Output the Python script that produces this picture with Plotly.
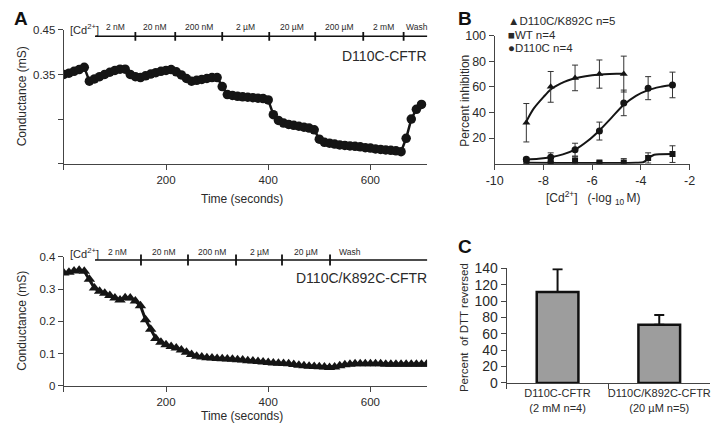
import plotly.graph_objects as go

W, H = 721, 433

# ---------------- data ----------------
# Panel A (top): D110C-CFTR conductance (mS), sampled every 10 s
t_top = list(range(0, 701, 10))
g_top = [0.350, 0.353, 0.357, 0.361, 0.366, 0.335, 0.340, 0.345, 0.350, 0.355,
         0.359, 0.362, 0.362, 0.350, 0.345, 0.343, 0.347, 0.351, 0.354, 0.357,
         0.359, 0.361, 0.356, 0.349, 0.341, 0.335, 0.337, 0.339, 0.341, 0.343,
         0.343, 0.323, 0.305, 0.303, 0.301, 0.300, 0.299, 0.298, 0.297, 0.296,
         0.293, 0.260, 0.247, 0.241, 0.238, 0.236, 0.234, 0.232, 0.230, 0.226,
         0.205, 0.198, 0.196, 0.194, 0.192, 0.191, 0.190, 0.189, 0.188, 0.186,
         0.185, 0.183, 0.182, 0.181, 0.180, 0.179, 0.177, 0.207, 0.250, 0.272,
         0.283]
top_switch_t = [140, 218, 310, 402, 492, 586, 665]
top_labels = ["2 nM", "20 nM", "200 nM", "2 µM", "20 µM", "200 µM", "2 mM", "Wash"]

# Panel A (bottom): D110C/K892C-CFTR conductance (mS), sampled every 10 s
t_bot = list(range(0, 711, 10))
g_bot = [0.350, 0.352, 0.356, 0.358, 0.355, 0.330, 0.303, 0.293, 0.287, 0.280,
         0.272, 0.266, 0.273, 0.272, 0.263, 0.248, 0.205, 0.175, 0.147, 0.135,
         0.127, 0.122, 0.117, 0.111, 0.104, 0.097, 0.092, 0.089, 0.087, 0.086,
         0.085, 0.084, 0.083, 0.082, 0.081, 0.080, 0.078, 0.077, 0.075, 0.074,
         0.072, 0.071, 0.070, 0.069, 0.068, 0.066, 0.064, 0.062, 0.061, 0.060,
         0.059, 0.058, 0.057, 0.058, 0.062, 0.065, 0.067, 0.068, 0.068, 0.068,
         0.068, 0.068, 0.068, 0.067, 0.067, 0.067, 0.067, 0.067, 0.067, 0.067,
         0.067, 0.067]
bot_switch_t = [151, 243, 337, 427, 521]
bot_labels = ["2 nM", "20 nM", "200 nM", "2 µM", "20 µM", "Wash"]
bar_start_t, bar_end_t = 61, 717

# Panel B: percent inhibition vs log10 [Cd2+]
logcd = [-8.7, -7.7, -6.7, -5.7, -4.7, -3.7, -2.7]
k892c_y = [32, 60, 67, 70, 70]
k892c_err = [15, 12, 10, 11, 14]
d110c_y = [3.5, 5, 11, 25.5, 47.5, 59, 61.5]
d110c_err = [1.5, 3.5, 5, 7, 10, 9, 10]
wt_y = [1, 1, 2.5, 1, 1, 4.5, 7.5]
wt_err = [1, 1, 3, 1, 3, 4, 6.5]
b_ticks = [-10, -8, -6, -4, -2]
b_ticktext = ["-10", "-8", "-6", "-4", "-2"]
# fitted curves
k892c_fit_x = [-8.7, -8.4, -8.0, -7.7, -7.3, -7.0, -6.5, -6.0, -5.5, -5.0, -4.7]
k892c_fit_y = [33, 43, 52, 58, 62.5, 65, 67.5, 69, 69.8, 70.2, 70.3]
d110c_fit_x = [-8.7, -8.2, -7.7, -7.2, -6.7, -6.2, -5.7, -5.2, -4.7, -4.2, -3.7, -3.2, -2.7]
d110c_fit_y = [3.2, 3.8, 5, 7.3, 11, 17.5, 26, 36, 46, 53, 57.5, 60, 61.5]
wt_fit_x = [-8.7, -4.2, -3.9, -3.75, -3.6, -3.45, -3.2, -2.7]
wt_fit_y = [0.8, 0.8, 1.2, 3, 5.5, 7, 7.4, 7.5]

# Panel C: percent of DTT reversed
c_cats = ["D110C-CFTR<br>(2 mM n=4)", "D110C/K892C-CFTR<br>(20 µM n=5)"]
c_vals = [111, 71]
c_errs = [28, 12]

# ---------------- helpers ----------------
def fx(x):
    return x / W

def fy(y):
    return 1 - y / H

FONT = "Liberation Sans, Arial, sans-serif"
TXT = "#2a2a2a"
AX = "#444444"
MK = "#151515"

fig = go.Figure()

# Panel A traces
fig.add_trace(go.Scatter(x=t_top, y=g_top, mode="lines+markers", xaxis="x", yaxis="y",
                         line=dict(color=MK, width=2.5),
                         marker=dict(symbol="circle", size=9.5, color=MK)))
fig.add_trace(go.Scatter(x=t_bot, y=g_bot, mode="lines+markers", xaxis="x2", yaxis="y2",
                         line=dict(color=MK, width=3),
                         marker=dict(symbol="triangle-up", size=10, color=MK)))

# Panel B traces
eb = dict(type="data", thickness=1, width=3, color="#333333")
for fxs, fys in [(k892c_fit_x, k892c_fit_y), (d110c_fit_x, d110c_fit_y), (wt_fit_x, wt_fit_y)]:
    fig.add_trace(go.Scatter(x=fxs, y=fys, mode="lines", xaxis="x3", yaxis="y3",
                             line=dict(color=MK, width=2, shape="spline", smoothing=0.8)))
fig.add_trace(go.Scatter(x=logcd[:5], y=k892c_y, mode="markers", xaxis="x3", yaxis="y3",
                         marker=dict(symbol="triangle-up", size=7, color=MK),
                         error_y=dict(array=k892c_err, **eb)))
fig.add_trace(go.Scatter(x=logcd, y=d110c_y, mode="markers", xaxis="x3", yaxis="y3",
                         marker=dict(symbol="circle", size=7, color=MK),
                         error_y=dict(array=d110c_err, **eb)))
fig.add_trace(go.Scatter(x=logcd, y=wt_y, mode="markers", xaxis="x3", yaxis="y3",
                         marker=dict(symbol="square", size=6, color=MK),
                         error_y=dict(array=wt_err, **eb)))

# Panel C
fig.add_trace(go.Bar(x=c_cats, y=c_vals, xaxis="x4", yaxis="y4", width=0.41,
                     marker=dict(color="#9d9d9d", line=dict(color="#111111", width=2.5)),
                     error_y=dict(type="data", array=c_errs, arrayminus=[0, 0], symmetric=False,
                                  thickness=2, width=5, color="#111111")))

axis_common = dict(showgrid=False, zeroline=False, showline=True, linecolor=AX, linewidth=1.2,
                   ticks="outside", tickcolor=AX, ticklen=5, tickwidth=1.2)

layout = dict(
    width=W, height=H, margin=dict(l=0, r=0, t=0, b=0),
    paper_bgcolor="white", plot_bgcolor="white", showlegend=False,
    font=dict(family=FONT, color=TXT),
    xaxis=dict(domain=[fx(56), fx(427)], range=[0, 711], anchor="y",
               tickvals=[0, 200, 400, 600], ticktext=["", "200", "400", "600"],
               tickfont=dict(size=11.5), **axis_common),
    yaxis=dict(domain=[fy(161.7), fy(22.7)], range=[0.15, 0.45], anchor="x",
               tickvals=[0.15, 0.25, 0.35, 0.45], ticktext=["", "", "0.35", "0.45"],
               tickfont=dict(size=11.5), **axis_common),
    xaxis2=dict(domain=[fx(56), fx(427)], range=[0, 711], anchor="y2",
                tickvals=[0, 200, 400, 600], ticktext=["", "200", "400", "600"],
                tickfont=dict(size=11.5), **axis_common),
    yaxis2=dict(domain=[fy(392.3), fy(258.3)], range=[0, 0.4], anchor="x2",
                tickvals=[0, 0.1, 0.2, 0.3, 0.4], ticktext=["0", "0.1", "0.2", "0.3", "0.4"],
                tickfont=dict(size=11.5), **axis_common),
    xaxis3=dict(domain=[fx(496), fx(695)], range=[-10, -2], anchor="y3",
                tickvals=b_ticks, ticktext=b_ticktext, tickfont=dict(size=12.5), **axis_common),
    yaxis3=dict(domain=[fy(161.7), fy(28.7)], range=[0, 100], anchor="x3",
                tickvals=[20, 40, 60, 80, 100], tickfont=dict(size=12.5), **axis_common),
    xaxis4=dict(domain=[fx(508.3), fx(716)], anchor="y4", type="category",
                tickson="boundaries", tickangle=0, tickfont=dict(size=11), **axis_common),
    yaxis4=dict(domain=[fy(389.3), fy(270.3)], range=[0, 140], anchor="x4",
                tickvals=[0, 20, 40, 60, 80, 100, 120, 140], tickfont=dict(size=14), **axis_common),
)
fig.update_layout(**layout)

shapes = []
annotations = []

def conc_bar(xref, switch_t, labels, y_line, y_tick0, y_tick1, y_label, wash_offset=None):
    shapes.append(dict(type="line", xref=xref, yref="paper", x0=bar_start_t, x1=bar_end_t,
                       y0=fy(y_line), y1=fy(y_line), line=dict(color="#111111", width=1.6)))
    for t in switch_t:
        shapes.append(dict(type="line", xref=xref, yref="paper", x0=t, x1=t,
                           y0=fy(y_tick0), y1=fy(y_tick1), line=dict(color="#111111", width=1.8)))
    edges = [bar_start_t] + switch_t + [bar_end_t]
    for i, lab in enumerate(labels):
        xm = (edges[i] + edges[i + 1]) / 2
        if wash_offset is not None and i == len(labels) - 1:
            xm = edges[i] + wash_offset
        annotations.append(dict(x=xm, y=fy(y_label), xref=xref, yref="paper", text=lab,
                                showarrow=False, font=dict(size=8.5, color=TXT),
                                xanchor="center", yanchor="middle"))

conc_bar("x", top_switch_t, top_labels, 29.3, 25, 34, 20)
conc_bar("x2", bot_switch_t, bot_labels, 261.7, 256, 267.5, 253, wash_offset=40)

def txt(x, y, s, size, anchor="center", angle=0, bold=False, color=TXT):
    annotations.append(dict(x=fx(x), y=fy(y), xref="paper", yref="paper",
                            text=("<b>%s</b>" % s) if bold else s, showarrow=False,
                            textangle=angle, xanchor=anchor, yanchor="middle",
                            font=dict(size=size, color=color, family=FONT)))

# [Cd2+] labels
txt(94, 21.5, "[Cd<sup>2+</sup>]", 11, anchor="right")
txt(94, 254.5, "[Cd<sup>2+</sup>]", 11, anchor="right")
# Trace labels
txt(429, 50, "D110C-CFTR", 14, anchor="right")
txt(429, 280, "D110C/K892C-CFTR", 14, anchor="right")
# Axis titles, panel A
txt(13, 92, "Conductance (mS)", 12, angle=-90)
txt(13, 325, "Conductance (mS)", 12, angle=-90)
txt(238, 198, "Time (seconds)", 12)
txt(238, 424, "Time (seconds)", 12)
# Panel letters
txt(3, 11, "A", 19, anchor="left", bold=True, color="#111111")
txt(456, 11, "B", 19, anchor="left", bold=True, color="#111111")
txt(456, 248, "C", 19, anchor="left", bold=True, color="#111111")
# Panel B titles & legend
txt(466, 96, "Percent inhibition", 12, angle=-90)
txt(597, 197, "[Cd<sup>2+</sup>]   (-log <sub>10 </sub>M)", 12)
txt(508, 13, "▲D110C/K892C n=5", 11.5, anchor="left")
txt(508, 28, "■WT n=4", 11.5, anchor="left")
txt(508, 42, "●D110C n=4", 11.5, anchor="left")
# Panel C title
txt(464, 332, "Percent  of DTT reversed", 11.5, angle=-90)

fig.update_layout(shapes=shapes, annotations=annotations)

fig.write_html("out.html", config={"displayModeBar": False},
               post_script="document.body.style.margin='0';")
